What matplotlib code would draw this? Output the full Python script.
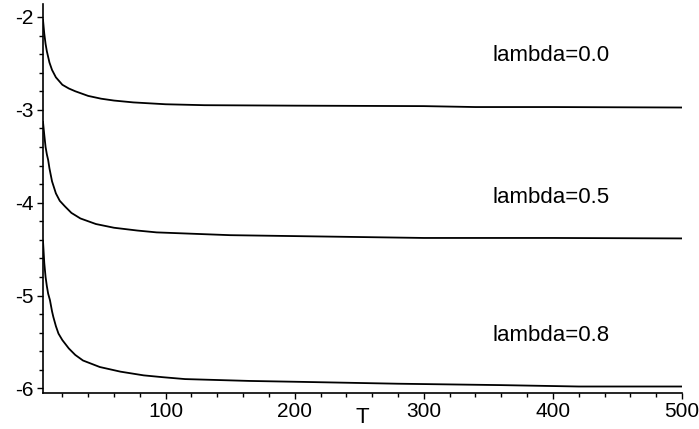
import matplotlib.pyplot as plt
from matplotlib.ticker import MultipleLocator

plt.rcParams['font.family'] = ['Liberation Sans', 'DejaVu Sans']
plt.rcParams['axes.unicode_minus'] = False

# Values
t_lam0 = [5, 6, 7, 8, 10, 12, 15, 20, 25, 30, 40, 50, 60, 75, 100, 130, 200, 300, 340, 400, 500]
y_lam0 = [-2.03, -2.18, -2.29, -2.37, -2.49, -2.57, -2.65, -2.73, -2.77, -2.80, -2.85,
          -2.88, -2.90, -2.92, -2.94, -2.95, -2.955, -2.96, -2.97, -2.97, -2.975]

t_lam5 = [5, 6, 7, 8, 9, 10, 12, 15, 18, 22, 27, 34, 46, 60, 78, 93, 150, 200, 300, 400, 500]
y_lam5 = [-3.13, -3.27, -3.40, -3.48, -3.54, -3.63, -3.77, -3.90, -3.98, -4.04, -4.11,
          -4.17, -4.23, -4.27, -4.30, -4.32, -4.35, -4.36, -4.38, -4.38, -4.385]

t_lam8 = [5, 6, 7, 8, 9, 10.4, 12, 13, 15, 17, 20, 25, 30, 36, 49, 65, 83, 98,
          115, 165, 205, 280, 360, 420, 500]
y_lam8 = [-4.41, -4.65, -4.80, -4.90, -4.98, -5.05, -5.17, -5.23, -5.33, -5.41, -5.48,
          -5.57, -5.64, -5.70, -5.77, -5.82, -5.86, -5.88, -5.90, -5.92, -5.93, -5.95,
          -5.965, -5.98, -5.98]

labels = ['lambda=0.0', 'lambda=0.5', 'lambda=0.8']
label_y = [-2.42, -3.94, -5.43]

fig = plt.figure(figsize=(6.99, 4.29), dpi=100)
ax = fig.add_axes([0.0615, 0.0839, 0.9142, 0.9068])

for t, y in [(t_lam0, y_lam0), (t_lam5, y_lam5), (t_lam8, y_lam8)]:
    ax.plot(t, y, color='black', lw=1.3)

for txt, ly in zip(labels, label_y):
    ax.text(353, ly, txt, fontsize=16, ha='left', va='center')

ax.set_xlim(5, 500)
ax.set_ylim(-6.05, -1.86)

ax.spines['top'].set_visible(False)
ax.spines['right'].set_visible(False)
ax.spines['left'].set_linewidth(1.2)
ax.spines['bottom'].set_linewidth(1.2)

ax.set_xticks([100, 200, 300, 400, 500])
ax.set_yticks([-2, -3, -4, -5, -6])
ax.xaxis.set_minor_locator(MultipleLocator(20))
ax.yaxis.set_minor_locator(MultipleLocator(0.2))
ax.tick_params(which='major', direction='out', length=4.5, width=1, labelsize=15, pad=2)
ax.tick_params(which='minor', direction='out', length=3, width=1)

ax.text(0.5, -0.064, 'T', transform=ax.transAxes, fontsize=16, ha='center', va='center')

fig.savefig('out.png', dpi=100)
